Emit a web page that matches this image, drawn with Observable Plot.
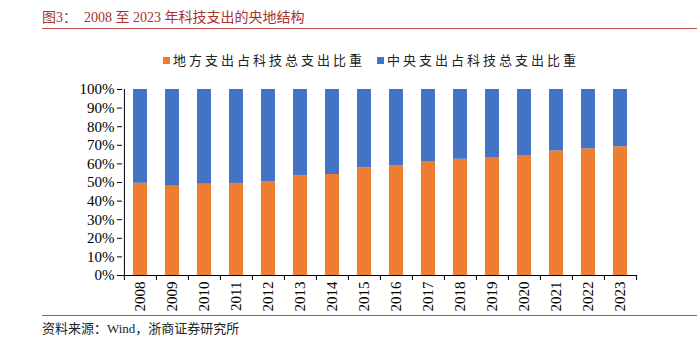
<!DOCTYPE html>
<html><head><meta charset="utf-8">
<script src="https://cdn.jsdelivr.net/npm/d3@7"></script>
<script src="https://cdn.jsdelivr.net/npm/@observablehq/plot@0.6"></script>
<style>
body{margin:0;background:#fff;}
#wrap{position:relative;width:697px;height:350px;overflow:hidden;font-family:"Liberation Serif","Noto Sans CJK SC",serif;}
#chart{position:absolute;left:0;top:0;}
.abs{position:absolute;white-space:nowrap;}
#title{left:42px;top:6px;font-size:14px;color:#A8322D;}
#tline{left:42px;top:28px;width:655px;height:0;border-top:1.3px solid #C0504D;}
#bline{left:42px;top:315px;width:655px;height:0;border-top:1.3px solid #C0504D;}
#footer{left:42px;top:318px;font-size:13px;color:#222;}
#legend{top:50px;left:0;width:697px;font-size:13px;color:#222;}
.li{position:absolute;top:0;letter-spacing:3px;}
.sw{display:inline-block;width:7px;height:7px;margin-right:3px;vertical-align:1px;}
</style></head>
<body>
<div id="wrap">
  <div id="chart"></div>
  <div class="abs" id="title">图3：&nbsp; 2008 至 2023 年科技支出的央地结构</div>
  <div class="abs" id="tline"></div>
  <div class="abs" id="legend"></div>
  <div class="abs" id="bline"></div>
  <div class="abs" id="footer">资料来源：Wind，浙商证券研究所</div>
</div>
<script>
const years = ["2008","2009","2010","2011","2012","2013","2014","2015","2016","2017","2018","2019","2020","2021","2022","2023"];
const localShare = [49.6,48.0,49.1,49.5,50.5,53.8,54.3,57.9,59.1,61.3,62.5,63.1,64.5,67.0,68.1,69.2];
const seriesNames = ["地方支出占科技总支出比重","中央支出占科技总支出比重"];
const seriesColors = ["#ED7D31","#4472C4"];
const yTicks = [0,0.1,0.2,0.3,0.4,0.5,0.6,0.7,0.8,0.9,1];

const data = [];
years.forEach((y,i)=>{
  data.push({year:y, series:seriesNames[0], value:localShare[i]/100});
  data.push({year:y, series:seriesNames[1], value:(100-localShare[i])/100});
});

const W=697,H=350,mL=122,mR=60,mT=89,mB=75;
const step=(W-mL-mR)/years.length;
const pin=0.57;

const plot = Plot.plot({
  width:W,height:H,marginLeft:mL,marginRight:mR,marginTop:mT,marginBottom:mB,
  style:{fontFamily:'"Liberation Serif","Times New Roman",serif',fontSize:"15px",color:"#000",background:"transparent"},
  x:{domain:years,paddingInner:pin,paddingOuter:pin/2,label:null},
  y:{domain:[0,1],label:null},
  color:{domain:seriesNames,range:seriesColors},
  marks:[
    Plot.barY(data,{x:"year",y:"value",fill:"series",order:seriesNames}),
    Plot.ruleY([0],{stroke:"#000",strokeWidth:1}),
    Plot.ruleX([years[0]],{x:d=>d,y1:0,y2:1,dx:-step/2,stroke:"#000",strokeWidth:1}),
    Plot.ruleX(years,{x:d=>d,y1:0,y2:-0.027,dx:-step/2,stroke:"#000"}),
    Plot.ruleX([years[years.length-1]],{x:d=>d,y1:0,y2:-0.027,dx:step/2,stroke:"#000"}),
    Plot.axisY({ticks:yTicks,tickFormat:d=>Math.round(d*100)+"%",tickSize:5,tickPadding:3,fontSize:15,label:null}),
    Plot.axisX({tickSize:0,tickRotate:-90,tickPadding:6,fontSize:15,label:null})
  ]
});
document.getElementById("chart").appendChild(plot);

const leg=document.getElementById("legend");
const lx=[163,377];
seriesNames.forEach((n,i)=>{
  const s=document.createElement("span");
  s.className="li";s.style.left=lx[i]+"px";
  s.innerHTML=`<span class="sw" style="background:${seriesColors[i]}"></span>${n}`;
  leg.appendChild(s);
});
</script>
</body></html>
